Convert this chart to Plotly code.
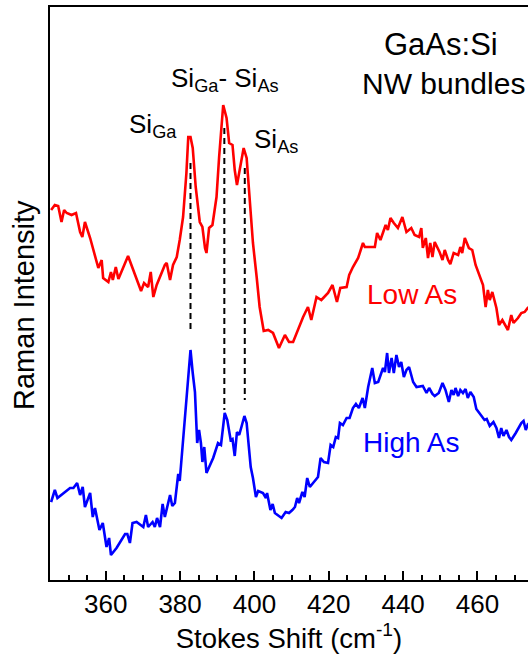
import plotly.graph_objects as go

# ---- data (Stokes shift in cm^-1, Raman intensity in arbitrary units) ----
low_as_shift = [345.3, 346.3, 347.2, 348.1, 348.8, 349.5, 350.8, 352.0, 353.1, 353.7, 354.4, 355.8,
                358.0, 358.9, 359.3, 360.7, 361.4, 361.9, 362.7, 363.4, 366.0, 368.3, 369.5, 370.3,
                371.4, 372.1, 372.8, 373.7, 375.0, 375.9, 376.4, 377.3, 378.1, 379.1, 379.9, 380.8,
                381.7, 382.2, 382.8, 383.4, 384.2, 385.3, 386.0, 386.7, 387.1, 387.8, 388.7, 389.8,
                390.5, 391.2, 391.6, 392.5, 393.2, 394.1, 394.7, 395.3, 396.1, 397.1, 397.9, 398.8,
                399.6, 400.6, 401.4, 402.5, 403.7, 405.0, 406.6, 408.2, 409.3, 410.4, 411.3, 413.1,
                414.4, 415.3, 416.7, 418.0, 419.8, 421.0, 422.2, 423.1, 424.8, 425.5, 426.5, 427.9,
                429.2, 429.7, 432.4, 433.0, 433.9, 435.3, 435.9, 436.6, 437.5, 438.6, 439.8, 440.9,
                442.2, 443.1, 444.3, 444.9, 445.3, 446.1, 446.7, 447.3, 447.9, 448.5, 449.8, 450.6,
                451.2, 452.1, 452.7, 453.6, 454.8, 455.4, 455.9, 456.6, 457.7, 458.6, 459.5, 460.6,
                461.5, 462.2, 462.8, 463.3, 464.0, 465.1, 465.8, 466.7, 468.2, 469.1, 469.7, 470.9,
                471.8, 472.7, 473.5, 474.2]
low_as_int = [370, 375, 374, 358, 370, 367, 365, 367, 348, 343, 358, 342,
              312, 320, 302, 298, 308, 300, 313, 301, 324, 302, 289, 297,
              293, 308, 283, 295, 307, 315, 317, 300, 315, 323, 340, 363,
              407, 443, 443, 432, 393, 358, 353, 332, 327, 352, 355, 383,
              423, 463, 475, 462, 437, 435, 410, 395, 410, 432, 422, 380,
              337, 303, 273, 249, 250, 247, 232, 245, 238, 238, 247, 263,
              273, 260, 283, 280, 287, 295, 278, 292, 293, 305, 313, 322,
              337, 333, 333, 347, 340, 355, 350, 362, 357, 352, 363, 348,
              352, 345, 343, 352, 332, 342, 322, 337, 323, 338, 328, 320,
              330, 320, 316, 327, 325, 333, 327, 342, 332, 330, 315, 305,
              295, 273, 290, 280, 288, 272, 255, 260, 250, 265, 257, 262,
              267, 268, 272, 270]

high_as_shift = [345.3, 346.3, 347.0, 350.4, 351.3, 352.3, 353.1, 353.8, 354.4, 355.8, 356.5, 357.1,
                 358.3, 359.2, 360.2, 360.9, 361.4, 362.9, 365.2, 365.8, 366.5, 367.2, 368.3, 370.1,
                 370.8, 371.4, 372.6, 373.2, 373.8, 374.6, 375.3, 375.9, 377.3, 377.9, 378.6, 379.5,
                 379.9, 380.8, 381.7, 382.8, 383.4, 384.0, 384.6, 385.1, 385.6, 386.0, 386.5, 387.1,
                 388.9, 390.2, 391.0, 392.0, 392.7, 393.6, 394.1, 394.7, 395.3, 395.9, 396.5, 397.3,
                 397.9, 399.0, 399.6, 400.4, 401.0, 402.3, 403.1, 403.4, 404.3, 404.9, 405.5, 407.3,
                 408.4, 409.3, 410.2, 410.9, 411.5, 412.0, 412.9, 413.5, 414.2, 414.9, 417.1, 417.8,
                 418.7, 419.8, 420.5, 421.2, 421.9, 422.5, 423.0, 423.8, 424.8, 425.6, 426.5, 427.3,
                 428.1, 429.1, 429.7, 430.6, 431.7, 432.4, 433.3, 434.6, 435.1, 435.7, 436.2, 436.9,
                 437.5, 438.2, 438.9, 439.5, 440.2, 440.9, 441.6, 442.7, 443.6, 445.3, 446.3, 447.0,
                 447.9, 448.5, 449.6, 450.6, 451.4, 452.3, 453.0, 453.6, 454.1, 454.8, 455.4, 456.1,
                 456.8, 457.4, 458.1, 459.0, 459.7, 461.0, 461.9, 462.5, 463.3, 464.3, 465.1, 465.8,
                 466.4, 467.0, 467.8, 468.5, 469.1, 470.3, 471.8, 472.4, 473.0, 473.5, 474.2]
high_as_int = [78, 90, 82, 92, 92, 97, 85, 93, 73, 87, 63, 72,
               50, 57, 33, 42, 25, 32, 46, 46, 37, 57, 58, 53,
               65, 53, 58, 53, 62, 53, 76, 63, 85, 74, 77, 106,
               99, 140, 183, 230, 207, 188, 137, 150, 137, 118, 133, 107,
               122, 137, 135, 167, 160, 140, 141, 124, 148, 145, 153, 164,
               157, 113, 102, 83, 89, 87, 82, 87, 70, 76, 67, 62,
               68, 67, 70, 73, 82, 77, 88, 83, 102, 93, 103, 122,
               118, 117, 135, 133, 143, 142, 157, 155, 162, 162, 172, 176,
               172, 182, 172, 193, 212, 197, 198, 212, 208, 227, 207, 222,
               207, 225, 213, 218, 203, 210, 213, 198, 193, 194, 187, 192,
               186, 184, 187, 197, 190, 178, 190, 185, 192, 184, 190, 187,
               191, 182, 188, 183, 171, 165, 160, 161, 154, 158, 152, 142,
               152, 144, 150, 143, 140, 147, 157, 159, 150, 155, 152]

# mode assignment guide lines
mode_labels = ["Si<sub>Ga</sub>", "Si<sub>Ga</sub>- Si<sub>As</sub>", "Si<sub>As</sub>"]
mode_shift = [382.8, 391.9, 397.4]
guide_top = [417, 452, 412]
guide_bottom = [247, 170, 180]

x_ticks = [360, 380, 400, 420, 440, 460]

FONT = "Liberation Sans, Arial, sans-serif"

fig = go.Figure()

for xs, yt, yb in zip(mode_shift, guide_top, guide_bottom):
    fig.add_trace(go.Scatter(x=[xs, xs], y=[yt, yb], mode="lines",
                             line=dict(color="black", width=2, dash="6px,4px"),
                             showlegend=False, hoverinfo="skip"))

fig.add_trace(go.Scatter(x=low_as_shift, y=low_as_int, mode="lines", name="Low As",
                         line=dict(color="#ff0000", width=2.6), showlegend=False))
fig.add_trace(go.Scatter(x=high_as_shift, y=high_as_int, mode="lines", name="High As",
                         line=dict(color="#0000ff", width=2.6), showlegend=False))

ann = []
ann.append(dict(x=372.7, y=455, text=mode_labels[0], font=dict(size=26)))
ann.append(dict(x=392.0, y=501, text=mode_labels[1], font=dict(size=26)))
ann.append(dict(x=405.7, y=440, text=mode_labels[2], font=dict(size=26)))
ann.append(dict(x=442.3, y=286, text="Low As", font=dict(size=28, color="#ff0000")))
ann.append(dict(x=442.3, y=138, text="High As", font=dict(size=28, color="#0000ff")))
ann.append(dict(x=450.1, y=536, text="GaAs:Si", font=dict(size=31)))
ann.append(dict(x=473.4, y=497, text="NW bundles", font=dict(size=30), xanchor="right"))
for a in ann:
    a.setdefault("xanchor", "center")
    a.update(xref="x", yref="y", showarrow=False, yanchor="middle")
    a["font"].setdefault("color", "black")
    a["font"]["family"] = FONT

# y-axis title as a rotated annotation (positioned like the reference)
ann.append(dict(xref="paper", yref="paper", x=0, y=0.48, xshift=-26, xanchor="center",
                yanchor="middle", textangle=-90, showarrow=False, text="Raman Intensity",
                font=dict(size=29, color="black", family=FONT)))

fig.update_layout(
    width=528, height=661,
    margin=dict(l=50, r=0, t=7, b=81),
    paper_bgcolor="white", plot_bgcolor="white",
    font=dict(family=FONT, color="black", size=26),
    annotations=ann,
    xaxis=dict(range=[345, 473.6], tickvals=x_ticks, ticks="inside", ticklen=9,
               tickwidth=1.5, tickcolor="black", showline=True, linecolor="black",
               linewidth=2, mirror=True, showgrid=False, zeroline=False,
               tickfont=dict(size=26),
               minor=dict(dtick=5, tick0=345, ticks="inside", ticklen=5, tickwidth=1.5,
                          tickcolor="black", showgrid=False),
               title=dict(text="Stokes Shift (cm<sup>-1</sup>)", font=dict(size=27.5), standoff=4)),
    yaxis=dict(range=[0, 573], showticklabels=False, ticks="", showline=True,
               linecolor="black", linewidth=2, showgrid=False, zeroline=False),
)

fig.write_html("out.html", config={"displayModeBar": False},
               post_script="document.body.style.margin='0';document.body.style.overflow='hidden';")
